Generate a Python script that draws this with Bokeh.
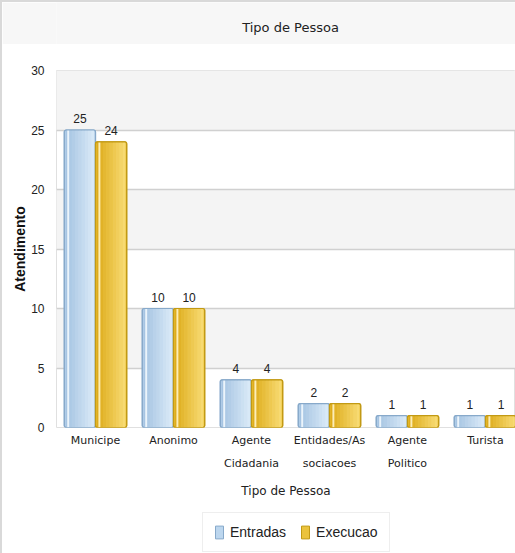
from bokeh.plotting import figure
from bokeh.models import Legend, LegendItem, ColumnDataSource, FixedTicker, LabelSet, Label, Spacer
from bokeh.layouts import column, row
from bokeh.embed import file_html
from bokeh.resources import INLINE
from bokeh.core.properties import value
import numpy as np

categories = ["Municipe", "Anonimo", "Agente\nCidadania", "Entidades/As\nsociacoes", "Agente\nPolitico", "Turista"]
entradas = [25, 10, 4, 2, 1, 1]
execucao = [24, 10, 4, 2, 1, 1]
y_ticks = [0, 5, 10, 15, 20, 25, 30]
series_names = ["Entradas", "Execucao"]
chart_title = "Tipo de Pessoa"

idx = np.arange(len(categories))
BW = 0.4
W = 513
BORDER = "#d9d9d9"

# ---- title bar
t = figure(width=W, height=42, output_backend="svg", toolbar_location=None,
           x_range=(0, 1), y_range=(0, 1), min_border=0)
t.axis.visible = False
t.grid.visible = False
t.outline_line_color = None
t.background_fill_color = "#f7f7f7"
t.border_fill_color = "#f7f7f7"
t.add_layout(Label(x=234, y=17, x_units="screen", y_units="screen", text=chart_title,
                   text_align="center", text_baseline="middle",
                   text_font="DejaVu Sans", text_font_size="13px", text_color="#222222"))

# ---- main chart
p = figure(width=W, height=461, output_backend="svg", toolbar_location=None,
           x_range=(-0.5, 5.385), y_range=(0, 30),
           min_border_left=54, min_border_right=0, min_border_top=26, min_border_bottom=78)

p.background_fill_color = "white"
p.border_fill_color = "white"
p.outline_line_color = "#e0e0e0"

# alternating bands
p.quad(left=-10, right=20, bottom=y_ticks[1::2], top=y_ticks[2::2],
       fill_color="#f4f4f4", line_color=None, level="image")

p.ygrid.ticker = FixedTicker(ticks=y_ticks)
p.ygrid.grid_line_color = "#d0d0d0"
p.ygrid.grid_line_width = 1.5
p.xgrid.grid_line_color = None

p.yaxis.ticker = FixedTicker(ticks=y_ticks)
p.yaxis.axis_line_color = None
p.yaxis.major_tick_line_color = None
p.yaxis.minor_tick_line_color = None
p.yaxis.major_label_standoff = 6
p.yaxis.major_label_text_font = "Liberation Sans"
p.yaxis.major_label_text_font_size = "12px"
p.yaxis.major_label_text_color = "#222222"
p.yaxis.axis_label = "Atendimento"
p.yaxis.axis_label_text_font = "Liberation Sans"
p.yaxis.axis_label_text_font_size = "14px"
p.yaxis.axis_label_text_font_style = "bold"
p.yaxis.axis_label_text_color = "#111111"
p.yaxis.axis_label_standoff = 0

p.xaxis.ticker = FixedTicker(ticks=list(idx))
p.xaxis.major_label_overrides = {int(i): c for i, c in zip(idx, categories)}
p.xaxis.axis_line_color = None
p.xaxis.major_tick_line_color = None
p.xaxis.minor_tick_line_color = None
p.xaxis.major_label_standoff = 0
p.xaxis.major_label_text_font = "DejaVu Sans"
p.xaxis.major_label_text_font_size = "11px"
p.xaxis.major_label_text_line_height = 1.8
p.xaxis.major_label_text_color = "#222222"
p.xaxis.axis_label = chart_title
p.xaxis.axis_label_text_font = "DejaVu Sans"
p.xaxis.axis_label_text_font_size = "12px"
p.xaxis.axis_label_text_font_style = "normal"
p.xaxis.axis_label_text_color = "#222222"
p.xaxis.axis_label_standoff = 11


def hex2rgb(h):
    return np.array([int(h[i:i + 2], 16) for i in (1, 3, 5)], dtype=float)


def rgb2hex(c):
    return "#%02x%02x%02x" % tuple(int(round(v)) for v in c)


styles = [
    dict(off=-BW / 2, fill="#bcd6ee", c0="#a6c4e2", c1="#d8e9f7", border="#87a9ca", hl="#f2f8fd"),
    dict(off=BW / 2, fill="#ebc33c", c0="#deac1c", c1="#f7da72", border="#c29a14", hl="#fff4c8"),
]
for vals, st, name in zip([entradas, execucao], styles, series_names):
    xs = idx + st["off"]
    src = ColumnDataSource(dict(x=xs, top=vals, lbl=[str(v) for v in vals]))
    p.vbar(x="x", top="top", bottom=0, width=BW, source=src,
           fill_color=st["fill"], line_color=st["border"], line_width=1.2,
           border_radius=2)
    n = 9
    sw = (BW - 0.03) / n
    a, b = hex2rgb(st["c0"]), hex2rgb(st["c1"])
    for k in range(n):
        col = rgb2hex(a + (b - a) * k / (n - 1))
        p.vbar(x=xs - BW / 2 + 0.015 + sw * (k + 0.5), top=vals, bottom=0, width=sw * 1.02,
               fill_color=col, line_color=None)
    p.vbar(x=xs - BW / 2 + 0.05, top=vals, bottom=0, width=0.025,
           fill_color=st["hl"], line_color=None, fill_alpha=0.9)
    p.vbar(x=xs, top=vals, bottom=0, width=BW, fill_color=None,
           line_color=st["border"], line_width=1.2, border_radius=2)
    labels = LabelSet(x="x", y="top", text="lbl", source=src, y_offset=7,
                      text_align="center", text_baseline="bottom",
                      text_font=value("Liberation Sans"), text_font_size="12px",
                      text_color="#222222")
    p.add_layout(labels)

# ---- legend strip
lg = figure(width=W, height=48, output_backend="svg", toolbar_location=None,
            x_range=(0, 1), y_range=(0, 1), min_border=0)
lg.axis.visible = False
lg.grid.visible = False
lg.outline_line_color = None
lg.background_fill_color = "white"
lg.border_fill_color = "white"
legend_items = []
for st, name in zip(styles, series_names):
    r = lg.vbar(x=[0.5], top=[-999], bottom=[-1000], width=0.01,
                fill_color=st["fill"], line_color=st["border"])
    legend_items.append(LegendItem(label=name, renderers=[r]))
legend = Legend(items=legend_items, orientation="horizontal", location=(146, 1),
                label_text_font="Liberation Sans", label_text_font_size="14px",
                label_text_color="#222222", border_line_color="#dddddd",
                glyph_width=10, glyph_height=16, spacing=14, padding=11, margin=0,
                label_standoff=6)
lg.add_layout(legend, "center")

top_line = Spacer(width=W, height=2, styles={"background-color": BORDER})
left_line = Spacer(width=2, height=2 + 42 + 461 + 48, styles={"background-color": BORDER})
layout = row(left_line, column(top_line, t, p, lg, spacing=0), spacing=0)
open("out.html", "w").write(file_html(layout, INLINE))
